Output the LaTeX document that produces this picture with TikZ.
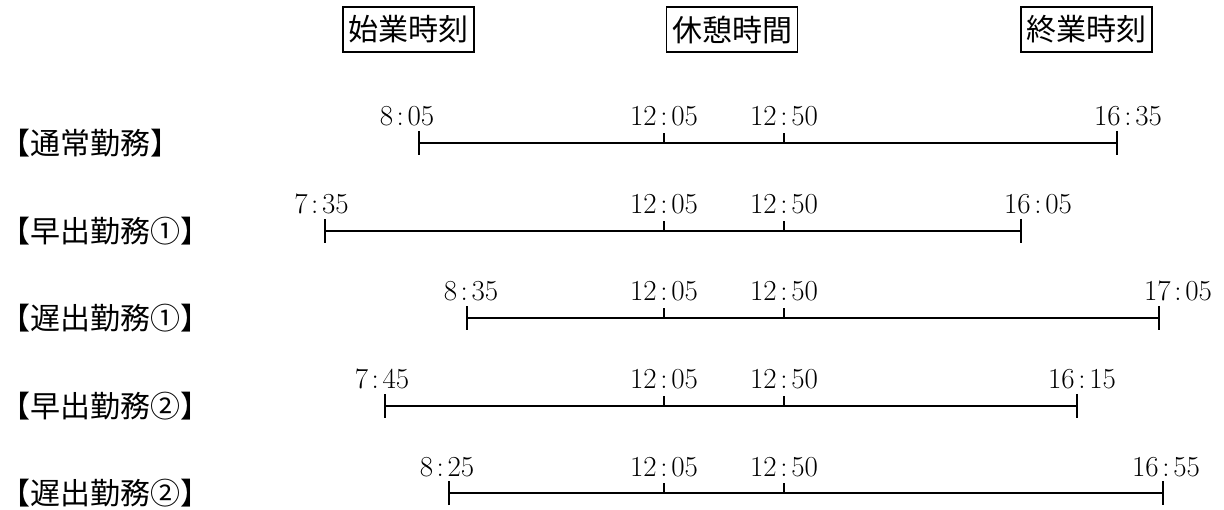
\documentclass[tikz,border=0pt]{standalone}
\usepackage{fontspec}
\newfontfamily\jpfont{Noto Sans CJK JP}
\usetikzlibrary{arrows.meta}

\newcommand{\hhmm}[2]{#1\makebox[0.5em]{:}#2}

\begin{document}
\begin{tikzpicture}[x=1pt, y=-1pt]
    \tikzstyle{head} = [draw, line width=1.5pt, minimum width=131pt, minimum height=45pt, inner sep=0pt, font=\jpfont\fontsize{30}{36}\selectfont]
    \tikzstyle{rowlab} = [anchor=west, inner sep=0pt, font=\jpfont\fontsize{30}{36}\selectfont]
    \tikzstyle{clock} = [anchor=base, inner sep=0pt, font=\fontsize{29}{34}\selectfont]
    \tikzstyle{workline} = [line width=1.6pt, {Bar[width=24pt]}-{Bar[width=24pt]}]
    \tikzstyle{brk} = [line width=1.4pt]
    \useasboundingbox (0,0) rectangle (1224,510);
    % headings
    \node[head] (hStart) at (408.5,29.5) {始業時刻};
    \node[head] (hBreak) at (732,29.5) {休憩時間};
    \node[head] (hEnd) at (1086.5,29.5) {終業時刻};
    % row 1
    \node[rowlab] (r1) at (0,143) {【通常勤務】};
    \coordinate (s1) at (418,143); \coordinate (e1) at (1118,143);
    \coordinate (a1) at (664,143); \coordinate (b1) at (784,143);
    \draw[workline] (s1) -- (e1); \draw[brk] (a1) -- ++(0,-10); \draw[brk] (b1) -- ++(0,-10);
    \node[clock] (t1s) at (407,126) {\hhmm{8}{05}}; \node[clock] (t1e) at (1128,126) {\hhmm{16}{35}};
    \node[clock] (t1a) at (664,126) {\hhmm{12}{05}}; \node[clock] (t1b) at (784,126) {\hhmm{12}{50}};
    % row 2
    \node[rowlab] (r2) at (0,231) {【早出勤務①】};
    \coordinate (s2) at (324,231); \coordinate (e2) at (1022,231);
    \coordinate (a2) at (664,231); \coordinate (b2) at (784,231);
    \draw[workline] (s2) -- (e2); \draw[brk] (a2) -- ++(0,-10); \draw[brk] (b2) -- ++(0,-10);
    \node[clock] (t2s) at (321.5,214) {\hhmm{7}{35}}; \node[clock] (t2e) at (1038,214) {\hhmm{16}{05}};
    \node[clock] (t2a) at (664,214) {\hhmm{12}{05}}; \node[clock] (t2b) at (784,214) {\hhmm{12}{50}};
    % row 3
    \node[rowlab] (r3) at (0,318) {【遅出勤務①】};
    \coordinate (s3) at (466,318); \coordinate (e3) at (1160,318);
    \coordinate (a3) at (664,318); \coordinate (b3) at (784,318);
    \draw[workline] (s3) -- (e3); \draw[brk] (a3) -- ++(0,-10); \draw[brk] (b3) -- ++(0,-10);
    \node[clock] (t3s) at (471,301) {\hhmm{8}{35}}; \node[clock] (t3e) at (1178,301) {\hhmm{17}{05}};
    \node[clock] (t3a) at (664,301) {\hhmm{12}{05}}; \node[clock] (t3b) at (784,301) {\hhmm{12}{50}};
    % row 4
    \node[rowlab] (r4) at (0,406) {【早出勤務②】};
    \coordinate (s4) at (384,406); \coordinate (e4) at (1078,406);
    \coordinate (a4) at (664,406); \coordinate (b4) at (784,406);
    \draw[workline] (s4) -- (e4); \draw[brk] (a4) -- ++(0,-10); \draw[brk] (b4) -- ++(0,-10);
    \node[clock] (t4s) at (382,389) {\hhmm{7}{45}}; \node[clock] (t4e) at (1082,389) {\hhmm{16}{15}};
    \node[clock] (t4a) at (664,389) {\hhmm{12}{05}}; \node[clock] (t4b) at (784,389) {\hhmm{12}{50}};
    % row 5
    \node[rowlab] (r5) at (0,493) {【遅出勤務②】};
    \coordinate (s5) at (448,493); \coordinate (e5) at (1164,493);
    \coordinate (a5) at (664,493); \coordinate (b5) at (784,493);
    \draw[workline] (s5) -- (e5); \draw[brk] (a5) -- ++(0,-10); \draw[brk] (b5) -- ++(0,-10);
    \node[clock] (t5s) at (447,476) {\hhmm{8}{25}}; \node[clock] (t5e) at (1166,476) {\hhmm{16}{55}};
    \node[clock] (t5a) at (664,476) {\hhmm{12}{05}}; \node[clock] (t5b) at (784,476) {\hhmm{12}{50}};
\end{tikzpicture}
\end{document}
